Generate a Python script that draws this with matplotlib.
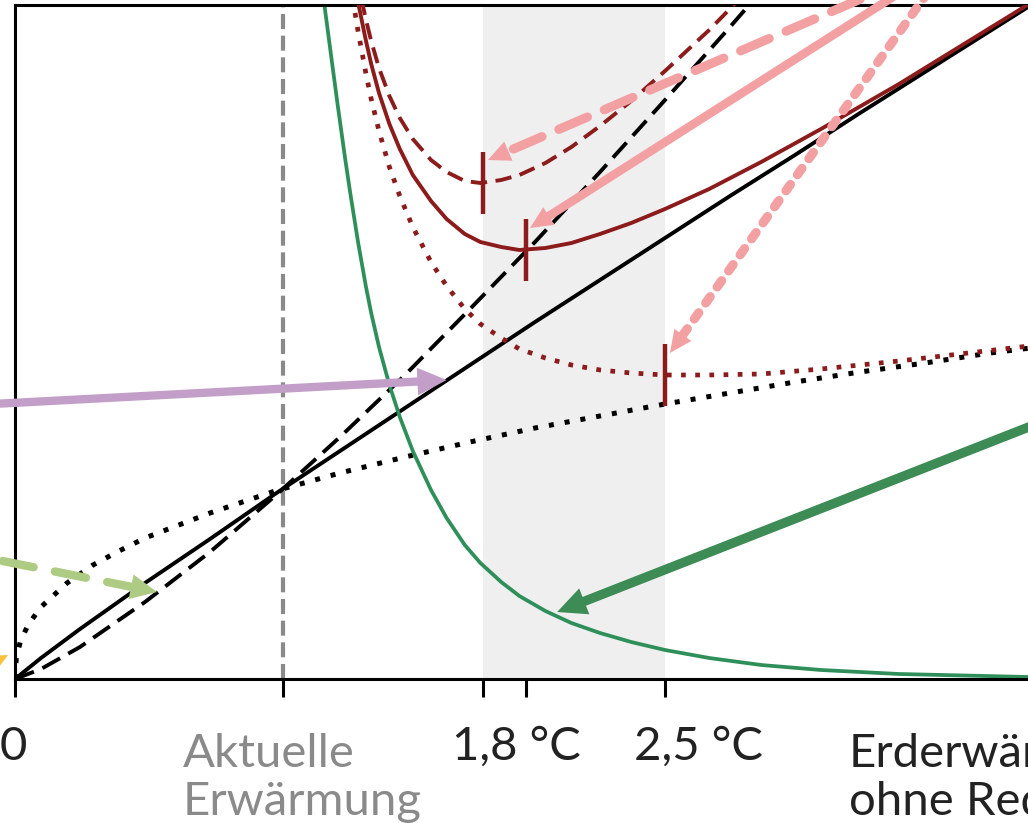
import matplotlib
matplotlib.use("Agg")
import numpy as np
import matplotlib.pyplot as plt

plt.rcParams['font.family'] = ['Lato', 'DejaVu Sans']

# warming in degC, costs in arbitrary units
x_now = 1.03
band = (1.8, 2.5)
tick_x = [0, x_now, 1.8, 1.965, 2.5]

# damage curves (black)
x_lin = [0, 0.1, 0.25, 0.5, 0.75, 1.0, 1.25, 1.5, 1.75, 2.0, 2.25, 2.5, 2.75, 3.0, 3.25, 3.5, 3.75, 4.0]
dmg_lin = [0, 0.21, 0.50, 0.96, 1.40, 1.85, 2.28, 2.71, 3.14, 3.57, 3.99, 4.41, 4.83, 5.24, 5.66, 6.07, 6.48, 6.89]

x_conv = [0, 0.1, 0.25, 0.5, 0.75, 1.0, 1.25, 1.5, 1.75, 2.0, 2.25, 2.5, 2.75, 3.0]
dmg_conv = [0, 0.10, 0.32, 0.77, 1.27, 1.83, 2.42, 3.04, 3.70, 4.37, 5.07, 5.79, 6.52, 7.27]

x_conc = [0, 0.005, 0.02, 0.05, 0.1, 0.2, 0.3, 0.4, 0.5, 0.75, 1.0, 1.25, 1.5, 1.75,
          2.0, 2.25, 2.5, 2.75, 3.0, 3.25, 3.5, 3.75, 4.0]
dmg_conc = [0, 0.21, 0.37, 0.54, 0.72, 0.96, 1.14, 1.28, 1.41, 1.66, 1.88, 2.06, 2.22, 2.37,
            2.51, 2.63, 2.75, 2.86, 2.97, 3.07, 3.16, 3.26, 3.34]

# mitigation cost (green)
x_green = [1.17, 1.19, 1.22, 1.24, 1.27, 1.29, 1.32, 1.35, 1.37, 1.40, 1.44, 1.48, 1.53, 1.60, 1.66,
           1.73, 1.79, 1.87, 1.94, 2.04, 2.14, 2.25, 2.37, 2.50, 2.67, 2.87, 3.10, 3.40, 3.90, 4.00]
cost_green = [7.15, 6.74, 6.15, 5.76, 5.20, 4.85, 4.36, 3.92, 3.66, 3.32, 2.94, 2.62, 2.28, 1.89, 1.61,
              1.34, 1.16, 0.97, 0.83, 0.68, 0.56, 0.46, 0.37, 0.29, 0.21, 0.14, 0.09, 0.05, 0.02, 0.02]

# total cost (dark red)
x_total = [1.27, 1.29, 1.32, 1.35, 1.37, 1.40, 1.44, 1.48, 1.53, 1.60, 1.66, 1.73, 1.79, 1.87,
           1.94, 2.04, 2.14, 2.25, 2.37, 2.50, 2.67, 2.87, 3.10, 3.40, 3.90, 4.00]
total_lin = [7.52, 7.20, 6.76, 6.38, 6.15, 5.86, 5.55, 5.30, 5.04, 4.78, 4.60, 4.45, 4.37, 4.32,
             4.29, 4.31, 4.36, 4.45, 4.56, 4.70, 4.90, 5.17, 5.50, 5.95, 6.75, 6.91]
total_conv = [7.67, 7.37, 6.95, 6.59, 6.38, 6.11, 5.83, 5.61, 5.40, 5.19, 5.07, 4.98, 4.96, 4.99,
              5.04, 5.16, 5.32, 5.53, 5.78, 6.08, 6.49, 7.02]
total_conc = [7.27, 6.94, 6.47, 6.05, 5.80, 5.48, 5.12, 4.83, 4.52, 4.17, 3.93, 3.70, 3.55, 3.41,
              3.30, 3.21, 3.14, 3.09, 3.06, 3.04, 3.04, 3.05, 3.10, 3.18, 3.33, 3.36]

# optimum markers
opt_x = [1.8, 1.965, 2.5]
opt_y = [4.96, 4.29, 3.04]

RED = '#8c1b1b'
PINK = '#f3a0a3'

fig = plt.figure(figsize=(10.28, 8.23), dpi=100)
ax = fig.add_axes([15 / 1028, 144 / 823, 1040 / 1028, 674 / 823])
ax.set_xlim(0, 4.0)
ax.set_ylim(0, 6.74)

ax.axvspan(band[0], band[1], color='#efefef', lw=0, zorder=0)
ax.axvline(x_now, color='#8a8a8a', lw=3.0, ls=(0, (3.6, 1.6)), zorder=1)

ax.plot(x_lin, dmg_lin, color='black', lw=2.8, zorder=2)
ax.plot(x_conv, dmg_conv, color='black', lw=2.8, ls=(0, (5.2, 2.4)), zorder=2)
ax.plot(x_conc, dmg_conc, color='black', lw=3.6, ls=(0, (1.0, 2.2)), zorder=2)

ax.plot(x_green, cost_green, color='#2f8f5a', lw=2.7, zorder=2)

ax.plot(x_total, total_lin, color=RED, lw=2.8, zorder=3)
ax.plot(x_total[:len(total_conv)], total_conv, color=RED, lw=2.8, ls=(0, (4.2, 2.2)), zorder=3)
ax.plot(x_total, total_conc, color=RED, lw=3.4, ls=(0, (1.0, 2.0)), zorder=3)

opt_y = np.array(opt_y)
ax.vlines(opt_x, opt_y - 0.31, opt_y + 0.31, color=RED, lw=3.2, zorder=4)


def arrow(start, tip, color, lw, ls='-', hl=16, hw=7.5):
    # shaft stops under the head, head is drawn filled on its own
    ax.annotate('', xy=tip, xytext=start, annotation_clip=False,
                arrowprops=dict(arrowstyle='-', color=color, lw=lw, ls=ls,
                                shrinkA=0, shrinkB=hl * 0.7), zorder=5)
    ax.annotate('', xy=tip, xytext=start, annotation_clip=False,
                arrowprops=dict(arrowstyle=f'-|>,head_length={hl},head_width={hw}',
                                color=color, lw=0, mutation_scale=1,
                                shrinkA=0, shrinkB=0), zorder=5)


arrow((-0.45, 2.70), (1.66, 2.99), '#c29ec8', 6.0, hl=21, hw=10)
arrow((-0.45, 1.39), (0.546, 0.87), '#aecb83', 6.0, ls=(0, (3.8, 2.6)), hl=19, hw=9)
arrow((-0.52, -0.44), (-0.027, 0.24), '#f9c23c', 6.0, hl=19, hw=9)
arrow((4.37, 3.00), (2.085, 0.67), '#3d8b55', 6.8, hl=21, hw=10)
arrow((3.60, 7.19), (1.819, 5.19), PINK, 6.6, ls=(0, (3.4, 2.0)))
arrow((3.60, 7.19), (1.981, 4.51), PINK, 6.2)
arrow((3.60, 7.19), (2.519, 3.26), PINK, 6.6, ls=(0, (0.85, 1.3)))

ax.set_xticks(tick_x)
ax.set_xticklabels([])
ax.set_yticks([])
ax.tick_params(axis='x', length=13, width=2.2, direction='out', color='black')
for side in ['left', 'bottom', 'top']:
    ax.spines[side].set_linewidth(2.2)
ax.spines['right'].set_visible(False)

# baseline of the last line of each label
lab_y1 = -0.120
lab_y2 = -0.202
trans = ax.get_xaxis_transform()
ax.text(-0.058, lab_y1, '0', transform=trans, fontsize=34, color='#222222', va='baseline', ha='left')
ax.text(0.646, lab_y2, 'Aktuelle\nErwärmung', transform=trans, fontsize=34, color='#8a8a8a',
        va='baseline', ha='left', linespacing=1.17)
ax.text(1.680, lab_y1, '1,8 °C', transform=trans, fontsize=34, color='#222222', va='baseline', ha='left')
ax.text(2.380, lab_y1, '2,5 °C', transform=trans, fontsize=34, color='#222222', va='baseline', ha='left')
ax.text(3.208, lab_y2, 'Erderwärmung\nohne Reduktion', transform=trans, fontsize=34, color='#222222',
        va='baseline', ha='left', linespacing=1.17)

fig.savefig('out.png', dpi=100)
